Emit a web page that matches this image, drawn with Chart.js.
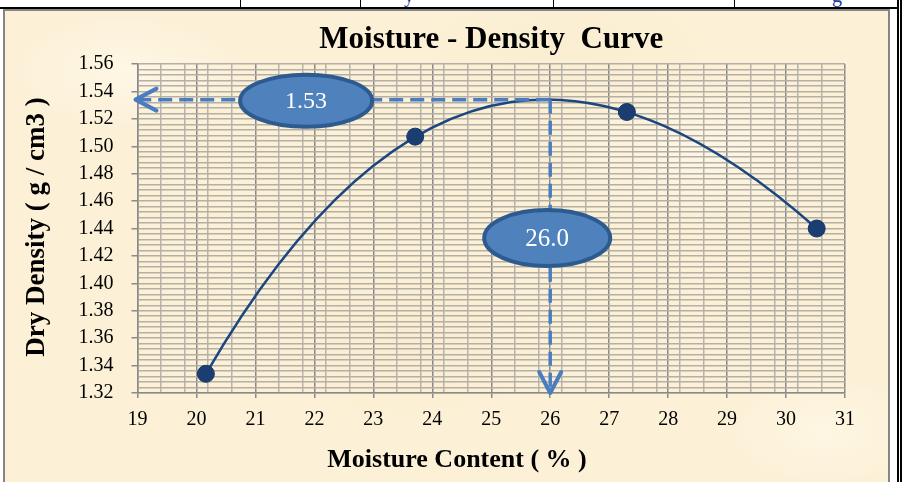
<!DOCTYPE html>
<html>
<head>
<meta charset="utf-8">
<title>Moisture - Density Curve</title>
<script src="https://cdn.jsdelivr.net/npm/chart.js@4.4.1/dist/chart.umd.min.js"></script>
<style>
  html, body { margin: 0; padding: 0; background: #fff; }
  #page { position: relative; width: 906px; height: 482px; overflow: hidden; background: #fff; }
  .rule { position: absolute; background: #000; }
  .frag { position: absolute; top: 0; height: 7px; overflow: hidden; }
  .frag span { position: absolute; top: -15px; left: 0; font: 20px 'Liberation Serif', serif; color: #1f3a9a; line-height: 20px; }
  #box {
    position: absolute; left: 3px; top: 9px; width: 883px; height: 475px;
    border: 2px solid #858585; border-bottom: none;
    background:
      radial-gradient(ellipse 180px 90px at 120px 60px, rgba(255,250,235,0.7), rgba(255,250,235,0) 70%),
      radial-gradient(ellipse 220px 110px at 700px 140px, rgba(255,251,238,0.6), rgba(255,251,238,0) 70%),
      radial-gradient(ellipse 200px 120px at 400px 330px, rgba(246,230,194,0.35), rgba(246,230,194,0) 70%),
      radial-gradient(ellipse 160px 90px at 820px 420px, rgba(255,249,232,0.7), rgba(255,249,232,0) 70%),
      radial-gradient(ellipse 240px 120px at 560px 40px, rgba(247,233,200,0.3), rgba(247,233,200,0) 70%),
      #fcf0d6;
  }
  #chart { position: absolute; left: 0; top: 0; }
</style>
</head>
<body>
<div id="page">
  <!-- bottom of the table row above the chart -->
  <div class="rule" style="left:0;top:7px;width:897px;height:2px;"></div>
  <div class="rule" style="left:240px;top:0;width:1px;height:8px;"></div>
  <div class="rule" style="left:360px;top:0;width:1px;height:8px;"></div>
  <div class="rule" style="left:553px;top:0;width:1px;height:8px;"></div>
  <div class="rule" style="left:734px;top:0;width:1px;height:8px;"></div>
  <div class="rule" style="left:897px;top:0;width:2px;height:482px;"></div>
  <div class="rule" style="left:900px;top:0;width:2px;height:482px;"></div>
  <div class="frag" style="left:404px;width:24px;"><span>y</span></div>
  <div class="frag" style="left:832px;width:24px;"><span>g</span></div>
  <div id="box"></div>
  <canvas id="chart" width="906" height="482"></canvas>
</div>
<script>
// Compaction test results
const moistureContent = [20.16, 23.71, 27.30, 30.52];   // %
const dryDensity      = [1.334, 1.507, 1.525, 1.440];   // g / cm3

// Optimum point
const peakMoisture = 26.0;
const peakDensity  = 1.534;

// Axis ticks
const xTickValues = [19, 20, 21, 22, 23, 24, 25, 26, 27, 28, 29, 30, 31];
const yTickValues = [1.32, 1.34, 1.36, 1.38, 1.40, 1.42, 1.44, 1.46, 1.48, 1.50, 1.52, 1.54, 1.56];
const xMinorStep = 0.4;
const yMinorStep = 0.004;

const chartTitle = 'Moisture - Density  Curve';
const xTitle = 'Moisture Content ( % )';
const yTitle = 'Dry Density ( g / cm3 )';

const SERIF = "'Liberation Serif', 'Times New Roman', serif";
const CURVE_COLOR = '#1c4680';

function withMinors(majors, step) {
  const lo = majors[0], hi = majors[majors.length - 1];
  const vals = majors.slice();
  for (let k = 0; lo + k * step <= hi + 1e-9; k++) {
    vals.push(Math.round((lo + k * step) * 1e6) / 1e6);
  }
  const uniq = [];
  vals.sort((a, b) => a - b).forEach(v => {
    if (!uniq.length || Math.abs(uniq[uniq.length - 1] - v) > 1e-9) uniq.push(v);
  });
  return uniq;
}
const isMajorIn = (majors) => (v) => majors.some(m => Math.abs(m - v) < 1e-9);
const isMajorX = isMajorIn(xTickValues);
const isMajorY = isMajorIn(yTickValues);

const points = moistureContent.map((m, i) => ({ x: m, y: dryDensity[i] }));

// Least-squares polynomial trend line (3rd order) through the test points
function polyFit(xs, ys, order) {
  const n = order + 1;
  const A = Array.from({ length: n }, () => new Array(n + 1).fill(0));
  xs.forEach((x, k) => {
    for (let i = 0; i < n; i++) {
      for (let j = 0; j < n; j++) A[i][j] += Math.pow(x, i + j);
      A[i][n] += ys[k] * Math.pow(x, i);
    }
  });
  for (let c = 0; c < n; c++) {
    let p = c;
    for (let r = c + 1; r < n; r++) if (Math.abs(A[r][c]) > Math.abs(A[p][c])) p = r;
    [A[c], A[p]] = [A[p], A[c]];
    for (let r = 0; r < n; r++) {
      if (r === c) continue;
      const f = A[r][c] / A[c][c];
      for (let j = c; j <= n; j++) A[r][j] -= f * A[c][j];
    }
  }
  return A.map((row, i) => row[n] / A[i][i]);
}
const trendCoef = polyFit(moistureContent, dryDensity, 3);
const trendAt = (x) => trendCoef.reduce((s, c, i) => s + c * Math.pow(x, i), 0);
const trendSlope = (x) => trendCoef.reduce((s, c, i) => i ? s + i * c * Math.pow(x, i - 1) : s, 0);

const trendLine = {
  id: 'trendLine',
  beforeDatasetsDraw(chart) {
    const { ctx, scales } = chart;
    const a = Math.min(...moistureContent), b = Math.max(...moistureContent);
    const h = (b - a) / 3;
    // a cubic is exactly one Bezier segment
    const c0 = [a, trendAt(a)];
    const c1 = [a + h, trendAt(a) + h * trendSlope(a)];
    const c2 = [b - h, trendAt(b) - h * trendSlope(b)];
    const c3 = [b, trendAt(b)];
    const P = (p) => [scales.x.getPixelForValue(p[0]), scales.y.getPixelForValue(p[1])];
    const [p0, p1, p2, p3] = [c0, c1, c2, c3].map(P);
    ctx.save();
    ctx.strokeStyle = CURVE_COLOR;
    ctx.lineWidth = 2.5;
    ctx.beginPath();
    ctx.moveTo(p0[0], p0[1]);
    ctx.bezierCurveTo(p1[0], p1[1], p2[0], p2[1], p3[0], p3[1]);
    ctx.stroke();
    ctx.restore();
  }
};

function ellipseLabel(ctx, cx, cy, rx, ry, text, size) {
  ctx.save();
  ctx.beginPath();
  ctx.ellipse(cx, cy, rx, ry, 0, 0, Math.PI * 2);
  ctx.fillStyle = '#4f81bd';
  ctx.fill();
  ctx.lineWidth = 4;
  ctx.strokeStyle = '#2d5a8f';
  ctx.stroke();
  ctx.fillStyle = '#ffffff';
  ctx.font = size + 'px ' + SERIF;
  ctx.textAlign = 'center';
  ctx.textBaseline = 'middle';
  ctx.fillText(text, cx, cy + 1);
  ctx.restore();
}

function chevron(ctx, tipX, tipY, dx, dy, color) {
  // dx,dy: direction from the tip back along the shaft
  const len = 21, half = 11;
  const nx = -dy, ny = dx;
  ctx.save();
  ctx.strokeStyle = color;
  ctx.lineWidth = 4;
  ctx.lineCap = 'round';
  ctx.lineJoin = 'round';
  ctx.beginPath();
  ctx.moveTo(tipX + dx * len + nx * half, tipY + dy * len + ny * half);
  ctx.lineTo(tipX, tipY);
  ctx.lineTo(tipX + dx * len - nx * half, tipY + dy * len - ny * half);
  ctx.stroke();
  ctx.restore();
}

const optimumMarks = {
  id: 'optimumMarks',
  beforeDatasetsDraw(chart) {
    const { ctx, chartArea, scales } = chart;
    const px = scales.x.getPixelForValue(peakMoisture);
    const py = scales.y.getPixelForValue(peakDensity);
    ctx.save();
    ctx.strokeStyle = '#4a7dc0';
    ctx.lineWidth = 3.5;
    ctx.setLineDash([14, 7]);
    ctx.beginPath();
    ctx.moveTo(px, py);
    ctx.lineTo(chartArea.left + 2, py);
    ctx.moveTo(px, py);
    ctx.lineTo(px, chartArea.bottom - 2);
    ctx.stroke();
    ctx.restore();
  },
  afterDatasetsDraw(chart) {
    const { ctx, chartArea, scales } = chart;
    const px = scales.x.getPixelForValue(peakMoisture);
    const py = scales.y.getPixelForValue(peakDensity);
    chevron(ctx, chartArea.left - 2, py, 1, 0, '#4a7dc0');
    chevron(ctx, px, chartArea.bottom, 0, -1, '#4a7dc0');
    ellipseLabel(ctx, scales.x.getPixelForValue(21.86), py + 1, 66, 26, peakDensity.toFixed(2), 24);
    ellipseLabel(ctx, px - 3, scales.y.getPixelForValue(1.433), 63, 28, peakMoisture.toFixed(1), 25);
  },
  afterDraw(chart) {
    const { ctx, chartArea } = chart;
    ctx.save();
    ctx.fillStyle = '#000';
    ctx.textAlign = 'center';
    ctx.textBaseline = 'alphabetic';
    ctx.font = 'bold 31px ' + SERIF;
    ctx.fillText(chartTitle, (chartArea.left + chartArea.right) / 2, 48);
    ctx.font = 'bold 26px ' + SERIF;
    ctx.fillText(xTitle, 457, 467);
    ctx.font = 'bold 27px ' + SERIF;
    ctx.translate(44, 227);
    ctx.rotate(-Math.PI / 2);
    ctx.fillText(yTitle, 0, 0);
    ctx.restore();
  }
};

new Chart(document.getElementById('chart'), {
  type: 'line',
  data: {
    datasets: [{
      data: points,
      showLine: false,
      pointRadius: 8.5,
      pointBackgroundColor: '#1b3e72',
      pointBorderColor: '#163563',
      pointBorderWidth: 1,
      clip: false
    }]
  },
  options: {
    responsive: false,
    animation: false,
    events: [],
    layout: { padding: { left: 0, top: 64, right: 61, bottom: 0 } },
    plugins: { legend: { display: false }, tooltip: { enabled: false }, title: { display: false } },
    scales: {
      x: {
        type: 'linear',
        min: xTickValues[0],
        max: xTickValues[xTickValues.length - 1],
        afterBuildTicks: (s) => { s.ticks = withMinors(xTickValues, xMinorStep).map(v => ({ value: v })); },
        afterFit: (s) => { s.height = 89; },
        grid: {
          color: (c) => isMajorX(c.tick.value) ? '#8a8a8a' : '#b8b4ac',
          lineWidth: 1.5,
          tickColor: (c) => isMajorX(c.tick.value) ? '#8a8a8a' : 'rgba(0,0,0,0)',
          tickLength: 5
        },
        border: { color: '#8a8a8a', width: 1.5 },
        ticks: {
          autoSkip: false, maxRotation: 0, padding: 10,
          color: '#000',
          font: { family: SERIF, size: 20 },
          callback: (v) => isMajorX(v) ? String(v) : ''
        }
      },
      y: {
        type: 'linear',
        min: yTickValues[0],
        max: yTickValues[yTickValues.length - 1],
        afterBuildTicks: (s) => { s.ticks = withMinors(yTickValues, yMinorStep).map(v => ({ value: v })); },
        afterFit: (s) => { s.width = 137.5; },
        grid: {
          color: '#b4b0a8',
          lineWidth: 1.5,
          tickColor: (c) => isMajorY(c.tick.value) ? '#8a8a8a' : 'rgba(0,0,0,0)',
          tickLength: 6
        },
        border: { color: '#8a8a8a', width: 1.5 },
        ticks: {
          autoSkip: false, padding: 18,
          color: '#000',
          font: { family: SERIF, size: 20 },
          callback: (v) => isMajorY(v) ? v.toFixed(2) : ''
        }
      }
    }
  },
  plugins: [trendLine, optimumMarks]
});
</script>
</body>
</html>
